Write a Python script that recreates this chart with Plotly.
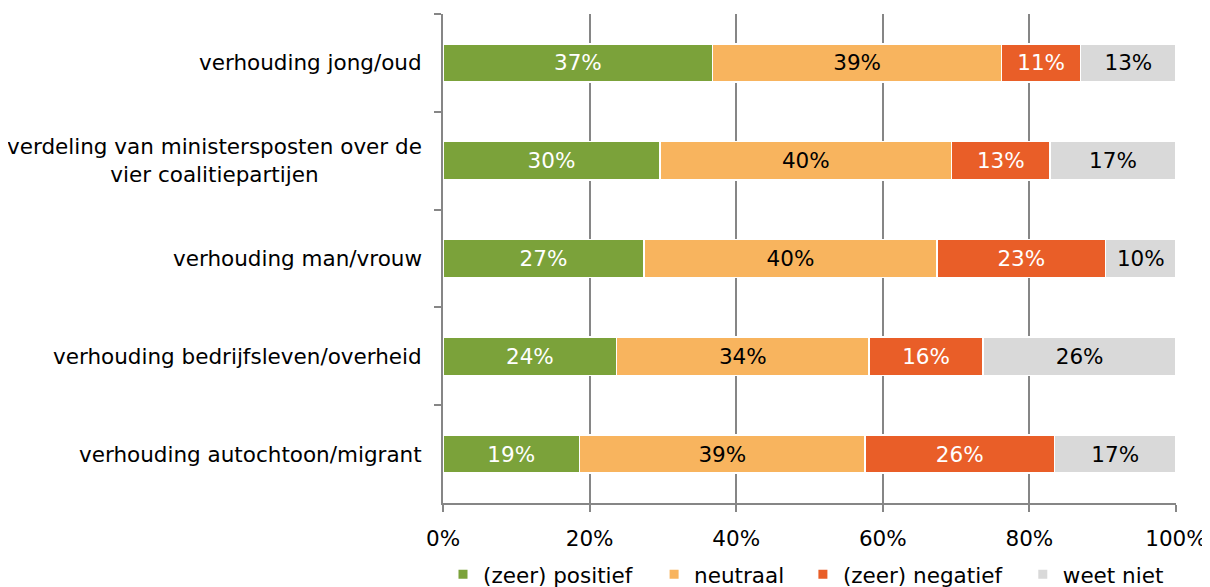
import plotly.graph_objects as go

categories = [
    "verhouding jong/oud",
    "verdeling van ministersposten over de<br>vier coalitiepartijen",
    "verhouding man/vrouw",
    "verhouding bedrijfsleven/overheid",
    "verhouding autochtoon/migrant",
]
positief = [36.8, 29.6, 27.4, 23.7, 18.6]
neutraal = [39.4, 39.8, 40.0, 34.4, 39.0]
negatief = [10.8, 13.4, 23.0, 15.6, 25.8]
weet_niet = [13.0, 17.2, 9.6, 26.3, 16.6]
x_ticks = [0, 20, 40, 60, 80, 100]
x_ticktext = ["0%", "20%", "40%", "60%", "80%", "100%"]

series = [
    ("(zeer) positief", positief, "#7BA23A", "white"),
    ("neutraal", neutraal, "#F8B45E", "black"),
    ("(zeer) negatief", negatief, "#E95E28", "white"),
    ("weet niet", weet_niet, "#D9D9D9", "black"),
]
# legend positions (paper x, left edge of each legend box)
legend_x = [0.0, 0.288, 0.491, 0.791]

FONT = "DejaVu Sans, Verdana, sans-serif"
FS = 21.5
fig = go.Figure()
for name, vals, color, tcolor in series:
    fig.add_trace(go.Bar(
        y=categories, x=vals, name=name, orientation="h",
        marker=dict(color=color, line=dict(color="white", width=1.5)),
        texttemplate="%{x:.0f}%", textposition="inside",
        insidetextanchor="middle", textangle=0, constraintext="none",
        insidetextfont=dict(color=tcolor, size=FS, family=FONT),
        hoverinfo="skip", showlegend=False,
    ))

legend_ids = ["legend", "legend2", "legend3", "legend4"]
for (name, vals, color, tcolor), lid in zip(series, legend_ids):
    fig.add_trace(go.Scatter(
        x=[None], y=[None], mode="markers", name=name, legend=lid,
        marker=dict(symbol="square", size=9, color=color),
        showlegend=True, hoverinfo="skip",
    ))

for c in categories:
    fig.add_annotation(
        x=0, xref="paper", y=c, yref="y", text=c, showarrow=False,
        xanchor="right", align="center", xshift=-19,
        font=dict(size=FS, family=FONT, color="black"),
    )

legend_common = dict(orientation="h", xanchor="left", xref="paper",
                     y=0.022, yref="container", yanchor="middle",
                     itemsizing="trace", bgcolor="rgba(0,0,0,0)",
                     font=dict(size=FS, family=FONT))
layout_legends = {}
for lid, lx in zip(legend_ids, legend_x):
    layout_legends[lid] = dict(legend_common, x=lx)

fig.update_layout(
    barmode="stack", bargap=0.61,
    width=1202, height=579,
    margin=dict(l=435, r=34, t=6, b=84, autoexpand=False),
    paper_bgcolor="white", plot_bgcolor="white",
    font=dict(family=FONT, size=FS, color="black"),
    showlegend=True,
    xaxis=dict(range=[0, 100], tickvals=x_ticks, ticktext=x_ticktext,
               showgrid=True, gridcolor="#868686", gridwidth=2,
               showline=True, linecolor="#868686", linewidth=2,
               ticks="outside", ticklen=7, tickcolor="#868686", tickwidth=2,
               ticklabelstandoff=8, automargin=False,
               zeroline=False, tickfont=dict(size=FS, family=FONT)),
    yaxis=dict(categoryorder="array", categoryarray=categories, autorange="reversed",
               showticklabels=False, tickson="boundaries", automargin=False,
               showline=True, linecolor="#868686", linewidth=2,
               ticks="outside", ticklen=7, tickcolor="#868686", tickwidth=2,
               showgrid=False, zeroline=False),
    **layout_legends,
)

fig.write_html("out.html")
